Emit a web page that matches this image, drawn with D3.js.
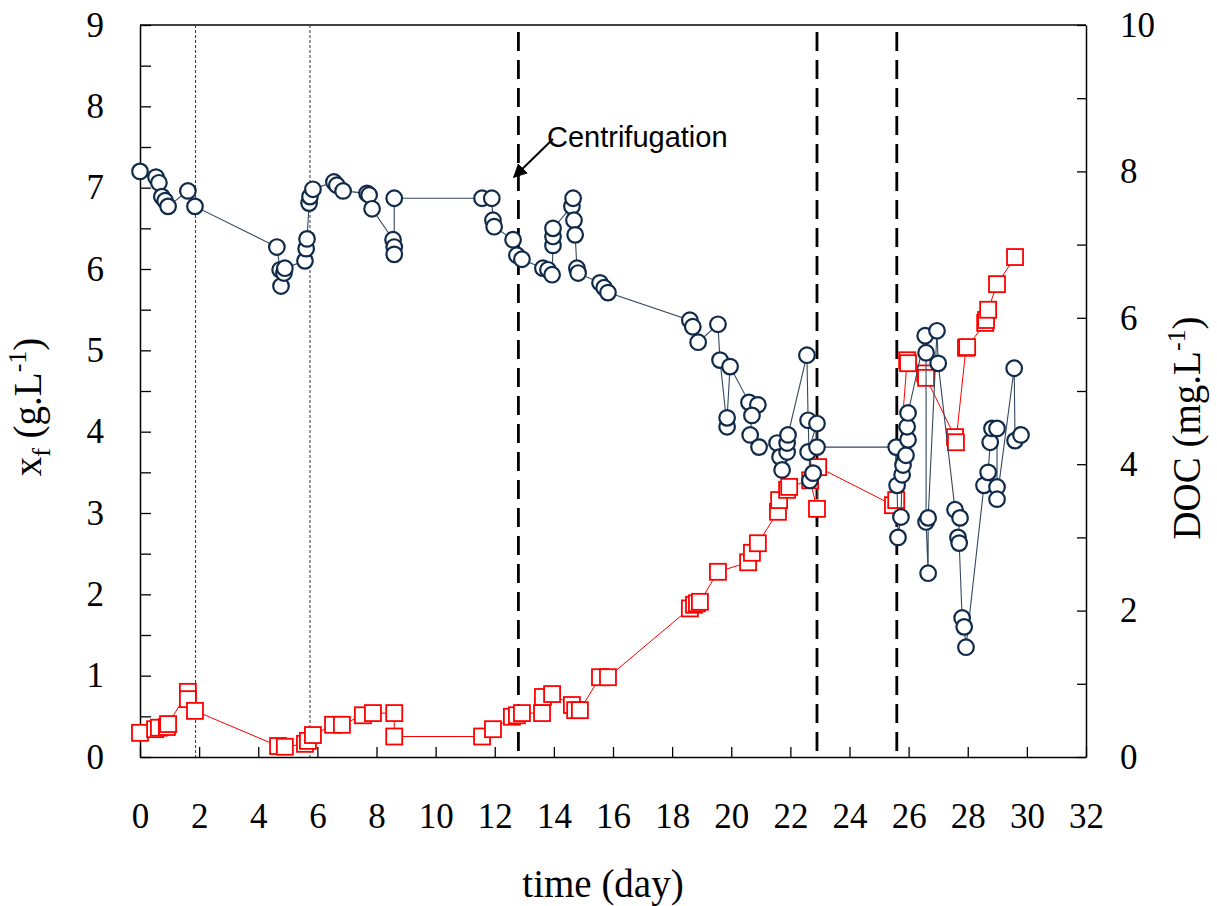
<!DOCTYPE html>
<html>
<head>
<meta charset="utf-8">
<script src="https://cdn.jsdelivr.net/npm/d3@7"></script>
<style>
  body { margin: 0; background: #fff; }
  .tick text { font-family: "Liberation Serif", "Times New Roman", serif; font-size: 35px; fill: #000; }
</style>
</head>
<body>
<div id="chart"></div>
<script>
// Data_____________________________________________
// biomass x_f (g/L), left axis
const xfDays = [0.0, 0.54, 0.64, 0.74, 0.85, 0.95, 1.62, 1.86, 4.63, 4.74, 4.77, 4.87, 4.9, 5.58, 5.62, 5.65, 5.72, 5.75, 5.85,
  6.56, 6.66, 6.87, 7.68, 7.75, 7.85, 8.56, 8.6, 8.6, 8.6, 11.57, 11.9, 11.94, 11.98, 12.62, 12.75, 12.92,
  13.63, 13.8, 13.94, 13.97, 13.97, 13.97, 14.61, 14.65, 14.68, 14.72, 14.78, 14.82, 15.56, 15.7, 15.83,
  18.6, 18.7, 18.88, 19.55, 19.62, 19.86, 19.86, 19.96, 20.6, 20.9, 20.7, 20.64, 20.94,
  21.55, 21.65, 21.72, 21.89, 21.89, 21.92, 22.56, 22.6, 22.66, 22.77, 22.6, 22.9, 22.9,
  25.58, 25.61, 25.64, 25.74, 25.78, 25.81, 25.91, 25.98, 25.95, 25.98, 26.56, 26.59, 26.59, 26.66, 26.66,
  26.96, 27.0, 27.57, 27.74, 27.67, 27.71, 27.81, 27.88, 27.94, 28.55, 28.69, 28.76, 28.82, 28.99, 28.99, 28.99,
  29.57, 29.6, 29.8];
const xfValues = [7.2, 7.13, 7.06, 6.89, 6.84, 6.77, 6.96, 6.77, 6.27, 5.99, 5.79, 5.95, 6.01, 6.1, 6.25, 6.37, 6.81, 6.89, 6.98,
  7.07, 7.03, 6.96, 6.93, 6.91, 6.74, 6.36, 6.27, 6.18, 6.87, 6.87, 6.87, 6.6, 6.52, 6.36, 6.17, 6.12,
  6.01, 5.99, 5.93, 6.29, 6.4, 6.5, 6.77, 6.87, 6.6, 6.42, 6.01, 5.95, 5.83, 5.77, 5.71,
  5.37, 5.29, 5.1, 5.32, 4.88, 4.06, 4.17, 4.8, 4.36, 4.33, 4.2, 3.96, 3.81,
  3.86, 3.69, 3.53, 3.75, 3.86, 3.96, 4.94, 4.14, 3.4, 3.49, 3.75, 4.1, 3.81,
  3.81, 3.34, 2.7, 2.95, 3.47, 3.59, 3.71, 3.9, 4.06, 4.23, 5.18, 4.97, 2.89, 2.26, 2.94,
  5.24, 4.84, 3.04, 2.94, 2.7, 2.63, 1.71, 1.6, 1.35, 3.34, 3.5, 3.87, 4.04, 4.04, 3.32, 3.17,
  4.78, 3.89, 3.96];

// dissolved organic carbon (mg/L), right axis
const docDays = [0.0, 0.51, 0.64, 0.91, 0.95, 1.62, 1.62, 1.86, 4.67, 4.9, 5.58, 5.68, 5.85, 6.53, 6.83, 7.54, 7.88,
  8.6, 8.6, 11.57, 11.94, 12.58, 12.75, 12.92, 13.6, 13.63, 13.94, 14.61, 14.72, 14.88, 15.56, 15.83,
  18.6, 18.74, 18.84, 18.94, 19.55, 20.57, 20.7, 20.9, 21.58, 21.62, 21.89, 21.96, 22.67, 22.9, 22.94,
  25.47, 25.58, 25.95, 25.98, 26.56, 26.59, 27.57, 27.6, 27.94, 27.98, 28.59, 28.62, 28.69, 28.99, 29.6];
const docValues = [0.33, 0.38, 0.4, 0.41, 0.45, 0.89, 0.79, 0.63, 0.15, 0.14, 0.18, 0.22, 0.3, 0.44, 0.44, 0.57, 0.6,
  0.6, 0.28, 0.28, 0.38, 0.55, 0.57, 0.6, 0.6, 0.82, 0.86, 0.71, 0.64, 0.64, 1.09, 1.09,
  2.03, 2.08, 2.1, 2.12, 2.53, 2.66, 2.79, 2.92, 3.35, 3.51, 3.65, 3.69, 3.78, 3.39, 3.96,
  3.44, 3.51, 5.42, 5.38, 5.24, 5.18, 4.37, 4.3, 5.59, 5.6, 5.93, 5.97, 6.11, 6.46, 6.83];

const dottedDays = [1.88, 5.75];
const dashedDays = [12.8, 22.9, 25.6];

const xTicks = d3.range(0, 33, 2);
const leftTicks = d3.range(0, 9.01, 0.5);
const rightTicks = d3.range(0, 11, 1);

// Layout_____________________________________________
const width = 1217, height = 906;
const plot = { left: 140, right: 1086, top: 25, bottom: 757 };
const navy = '#0f2a4a';
const red = '#ff0000';

const svg = d3.select('#chart').append('svg')
  .attr('width', width).attr('height', height)
  .style('background', '#fff');

const x = d3.scaleLinear().domain([0, 32]).range([plot.left, plot.right]);
const yL = d3.scaleLinear().domain([0, 9]).range([plot.bottom, plot.top]);
const yR = d3.scaleLinear().domain([0, 10]).range([plot.bottom, plot.top]);

// frame top
svg.append('line')
  .attr('x1', plot.left).attr('x2', plot.right)
  .attr('y1', plot.top).attr('y2', plot.top)
  .attr('stroke', '#000').attr('stroke-width', 1.5);

// Axes_________________________________________________
const xAxis = d3.axisBottom(x).tickValues(xTicks).tickSizeInner(-10).tickSizeOuter(0).tickPadding(46);
const gx = svg.append('g').attr('transform', `translate(0,${plot.bottom})`).call(xAxis);

const yAxisL = d3.axisLeft(yL).tickValues(leftTicks).tickSizeInner(-11).tickSizeOuter(0).tickPadding(36)
  .tickFormat(d => Number.isInteger(d) ? d : '');
const gyl = svg.append('g').attr('transform', `translate(${plot.left},0)`).call(yAxisL);

const yAxisR = d3.axisRight(yR).tickValues(rightTicks).tickSizeInner(-9).tickSizeOuter(0).tickPadding(34)
  .tickFormat(d => d % 2 === 0 ? d : '');
const gyr = svg.append('g').attr('transform', `translate(${plot.right},0)`).call(yAxisR);

[gx, gyl, gyr].forEach(g => {
  g.select('.domain').attr('stroke', '#000').attr('stroke-width', 1.5);
  g.selectAll('.tick line').attr('stroke', '#000').attr('stroke-width', 1.3);
});

// Reference lines______________________________________
svg.selectAll('.dotted')
  .data(dottedDays).enter().append('line')
  .attr('x1', d => x(d)).attr('x2', d => x(d))
  .attr('y1', plot.top).attr('y2', plot.bottom)
  .attr('stroke', '#333').attr('stroke-width', 1)
  .attr('stroke-dasharray', '3,2');

svg.selectAll('.dashed')
  .data(dashedDays).enter().append('line')
  .attr('x1', d => x(d)).attr('x2', d => x(d))
  .attr('y1', plot.top + 7).attr('y2', plot.bottom)
  .attr('stroke', '#000').attr('stroke-width', 2.8)
  .attr('stroke-dasharray', '19,9');

// DOC series___________________________________________
const doc = docDays.map((d, i) => [d, docValues[i]]);
svg.append('path')
  .datum(doc)
  .attr('fill', 'none').attr('stroke', red).attr('stroke-width', 1)
  .attr('d', d3.line().x(d => x(d[0])).y(d => yR(d[1])));

svg.selectAll('.sq')
  .data(doc).enter().append('rect')
  .attr('x', d => x(d[0]) - 8).attr('y', d => yR(d[1]) - 8)
  .attr('width', 16).attr('height', 16)
  .attr('fill', '#fff').attr('stroke', red).attr('stroke-width', 1.8);

// xf series____________________________________________
const xf = xfDays.map((d, i) => [d, xfValues[i]]);
svg.append('path')
  .datum(xf)
  .attr('fill', 'none').attr('stroke', '#34495e').attr('stroke-width', 1.1)
  .attr('d', d3.line().x(d => x(d[0])).y(d => yL(d[1])));

svg.selectAll('.dot')
  .data(xf).enter().append('circle')
  .attr('cx', d => x(d[0])).attr('cy', d => yL(d[1]))
  .attr('r', 7.8)
  .attr('fill', '#fff').attr('stroke', navy).attr('stroke-width', 2.2);

// Annotation___________________________________________
svg.append('defs').append('marker')
  .attr('id', 'arrow').attr('viewBox', '0 0 10 10')
  .attr('refX', 9).attr('refY', 5)
  .attr('markerWidth', 7).attr('markerHeight', 7)
  .attr('orient', 'auto')
  .append('path').attr('d', 'M0,0 L10,5 L0,10 z').attr('fill', '#000');

svg.append('line')
  .attr('x1', 553).attr('y1', 139).attr('x2', 514).attr('y2', 177)
  .attr('stroke', '#000').attr('stroke-width', 2)
  .attr('marker-end', 'url(#arrow)');

svg.append('text')
  .attr('x', 547).attr('y', 147)
  .style('font-family', '"Liberation Sans", Arial, sans-serif')
  .style('font-size', '29px')
  .text('Centrifugation');

// Axis titles__________________________________________
const serif = '"Liberation Serif", "Times New Roman", serif';

svg.append('text')
  .attr('x', 603).attr('y', 897)
  .attr('text-anchor', 'middle')
  .style('font-family', serif).style('font-size', '39px')
  .text('time (day)');

const lt = svg.append('text')
  .attr('transform', `translate(41,407) rotate(-90)`)
  .attr('text-anchor', 'middle')
  .style('font-family', serif).style('font-size', '39px');
lt.append('tspan').text('x');
lt.append('tspan').attr('dy', 9).style('font-size', '26px').text('f');
lt.append('tspan').attr('dy', -9).text(' (g.L');
lt.append('tspan').attr('dy', -15).style('font-size', '26px').text('-1');
lt.append('tspan').attr('dy', 15).text(')');

const rt = svg.append('text')
  .attr('transform', `translate(1200,428) rotate(-90)`)
  .attr('text-anchor', 'middle')
  .style('font-family', serif).style('font-size', '39px');
rt.append('tspan').text('DOC (mg.L');
rt.append('tspan').attr('dy', -15).style('font-size', '26px').text('-1');
rt.append('tspan').attr('dy', 15).text(')');
</script>
</body>
</html>
